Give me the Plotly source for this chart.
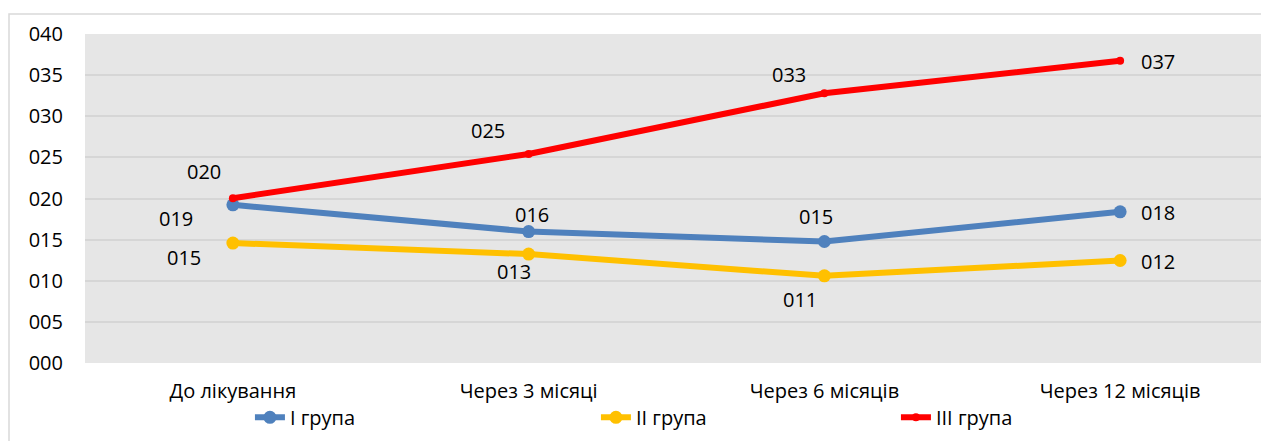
import plotly.graph_objects as go

categories = ["До лікування", "Через 3 місяці", "Через 6 місяців", "Через 12 місяців"]
group1 = [19.23, 15.98, 14.77, 18.38]
group2 = [14.58, 13.24, 10.60, 12.46]
group3 = [20.04, 25.42, 32.79, 36.75]
series_names = ["I група", "II група", "III група"]
y_ticks = [0, 5, 10, 15, 20, 25, 30, 35, 40]

colors = ["#4f81bd", "#ffc000", "#ff0000"]
marker_sizes = [13, 13, 8]
legend_widths = [301, 255, 100]
# label offsets in px (dx right, dy up)
offsets = [
    [(-57, -14), (3, 17), (-8, 25), (38, -1)],
    [(-49, -14), (-15, -17), (-24, -24), (38, -1)],
    [(-29, 27), (-41, 23), (-35, 19), (38, -1)],
]

FONT = "Open Sans"
fig = go.Figure()
annotations = []
for name, vals, col, ms, offs, lw in zip(series_names, [group1, group2, group3], colors,
                                         marker_sizes, offsets, legend_widths):
    fig.add_trace(go.Scatter(
        x=categories, y=vals, name=name, mode="lines+markers",
        line=dict(color=col, width=6),
        marker=dict(color=col, size=ms),
        legendwidth=lw,
    ))
    for c, v, (dx, dy) in zip(categories, vals, offs):
        annotations.append(dict(
            x=c, y=v, xref="x", yref="y", text=f"{round(v):03d}",
            showarrow=False, xshift=dx, yshift=dy,
            font=dict(family=FONT, size=20, color="#000000"),
        ))

# page body has an 8px default margin; figure sized to fit the window
W, H = 1261, 433
L, R, T, B = 77, 1, 26, 78
pw = W - L - R
ph = H - T - B

shapes = [dict(
    type="rect", xref="paper", yref="paper",
    x0=(1 - L) / pw, x1=1.05, y0=-0.5, y1=1 + (T - 6) / ph,
    line=dict(color="#d9d9d9", width=1.5), fillcolor="rgba(0,0,0,0)", layer="below",
)]

fig.update_layout(
    width=W, height=H,
    margin=dict(l=L, r=R, t=T, b=B),
    paper_bgcolor="white",
    plot_bgcolor="#e6e6e6",
    font=dict(family=FONT, size=20, color="#000000"),
    showlegend=True,
    legend=dict(
        orientation="h", x=(229 - 85) / pw + 0.0177, xanchor="left",
        y=-0.106, yanchor="top",
        font=dict(family=FONT, size=20, color="#000000"),
        entrywidthmode="pixels",
        bgcolor="rgba(0,0,0,0)",
        tracegroupgap=0,
    ),
    annotations=annotations,
    shapes=shapes,
    xaxis=dict(
        type="category", range=[-0.5, 3.5], showgrid=False, zeroline=False,
        showline=False, ticks="", ticklabelstandoff=14,
        tickfont=dict(family=FONT, size=20),
    ),
    yaxis=dict(
        range=[0, 40], tickvals=y_ticks, tickformat="03d",
        showgrid=True, gridcolor="#d6d6d6", gridwidth=2,
        zeroline=False, showline=False, ticks="", ticklabelstandoff=21,
        tickfont=dict(family=FONT, size=20),
    ),
)

fig.write_html("out.html")
